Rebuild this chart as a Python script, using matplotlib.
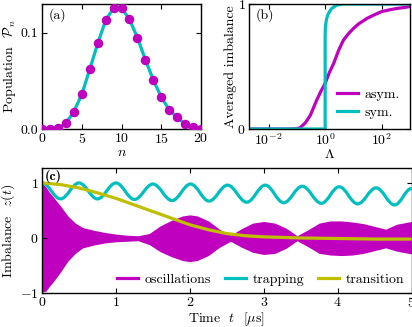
import matplotlib
matplotlib.use("Agg")
import matplotlib.pyplot as plt
from matplotlib.path import Path
from matplotlib.patches import PathPatch

plt.rcParams['font.family'] = ['cmr10']
plt.rcParams['mathtext.fontset'] = 'cm'
plt.rcParams['axes.formatter.use_mathtext'] = True
plt.rcParams['font.size'] = 10
plt.rcParams['xtick.direction'] = 'in'
plt.rcParams['ytick.direction'] = 'in'
plt.rcParams['xtick.top'] = True
plt.rcParams['ytick.right'] = True
plt.rcParams['xtick.major.pad'] = 2.5
plt.rcParams['ytick.major.pad'] = 2.5
plt.rcParams['axes.linewidth'] = 1.0

# (a) population distribution
n_vals = list(range(21))
pop = [0.000, 0.000, 0.001, 0.006, 0.018, 0.036, 0.062, 0.089, 0.113, 0.126, 0.126,
       0.114, 0.095, 0.072, 0.051, 0.033, 0.020, 0.012, 0.005, 0.002, 0.000]

# (b) averaged imbalance vs Lambda
lam_asym = [2e-3, 0.01, 0.05, 0.1, 0.13, 0.2, 0.3, 0.5, 0.7, 1.0, 1.4, 2.0, 3.0, 4.4,
            6.5, 10, 15, 30, 50, 100, 200, 340, 600, 1000]
imb_asym = [0.0, 0.0, 0.0, 0.003, 0.01, 0.05, 0.11, 0.23, 0.30, 0.365, 0.45, 0.525, 0.63, 0.71,
            0.76, 0.805, 0.84, 0.885, 0.91, 0.94, 0.955, 0.965, 0.972, 0.98]
lam_sym = [2e-3, 0.5, 1.0, 1.0, 1.02, 1.08, 1.15, 1.3, 1.7, 2.5, 4.0, 10, 1000]
imb_sym = [0.0, 0.0, 0.0, 0.75, 0.81, 0.86, 0.89, 0.925, 0.965, 0.99, 1.0, 1.0, 1.0]

# (c) imbalance dynamics
osc_t = [0, 0.05, 0.1, 0.15, 0.25, 0.35, 0.45, 0.55, 0.7, 0.85, 1.0, 1.15, 1.3, 1.45,
         1.6, 1.75, 1.9, 2.0, 2.1, 2.25, 2.4, 2.55, 2.7, 2.85, 3.0, 3.15, 3.3, 3.45,
         3.6, 3.75, 3.9, 4.05, 4.2, 4.35, 4.5, 4.65, 4.8, 5.0]
osc_up = [1.0, 0.93, 0.83, 0.75, 0.58, 0.40, 0.27, 0.19, 0.14, 0.10, 0.07, 0.05, 0.04, 0.08,
          0.22, 0.32, 0.40, 0.42, 0.40, 0.31, 0.16, 0.05, 0.17, 0.27, 0.30, 0.27, 0.18, 0.04,
          0.15, 0.27, 0.31, 0.31, 0.29, 0.26, 0.21, 0.16, 0.25, 0.30]
osc_lo = [-0.98, -0.97, -0.88, -0.80, -0.62, -0.42, -0.28, -0.18, -0.13, -0.09, -0.07, -0.06, -0.05, -0.12,
          -0.25, -0.34, -0.41, -0.43, -0.41, -0.32, -0.17, -0.06, -0.17, -0.26, -0.30, -0.28, -0.19, -0.05,
          -0.16, -0.28, -0.31, -0.32, -0.31, -0.28, -0.23, -0.18, -0.24, -0.29]

trap_t = [0, 0.25, 0.5, 0.75, 1.0, 1.25, 1.5, 1.76, 2.01, 2.26, 2.51, 2.77, 3.02, 3.27,
          3.52, 3.78, 4.02, 4.27, 4.52, 4.77, 5.0]
trap_z = [1.0, 0.71, 1.0, 0.71, 1.0, 0.70, 0.98, 0.68, 0.98, 0.67, 0.96, 0.65, 0.96, 0.64,
          0.94, 0.63, 0.93, 0.62, 0.91, 0.60, 0.90]

trans_t = [0, 0.25, 0.5, 0.75, 1.0, 1.25, 1.5, 1.75, 2.0, 2.25, 2.5, 2.75, 3.0, 3.5, 4.0, 4.5, 5.0]
trans_z = [1.0, 0.97, 0.91, 0.82, 0.72, 0.60, 0.48, 0.36, 0.24, 0.15, 0.08, 0.04, 0.02, 0.0,
           -0.01, -0.02, -0.02]

fig = plt.figure(figsize=(4.12, 3.27), dpi=100)
ax1 = fig.add_axes([0.102, 0.6055, 0.386, 0.382])
ax2 = fig.add_axes([0.604, 0.6055, 0.391, 0.382])
ax3 = fig.add_axes([0.102, 0.104, 0.897, 0.382])

# panel (a)
ax1.plot(n_vals, pop, color='c', lw=2.3, zorder=2)
ax1.plot(n_vals, pop, 'o', color='m', ms=5.8, zorder=3)
ax1.set_xlim(0, 20)
ax1.set_ylim(0, 0.13)
ax1.set_xticks([0, 5, 10, 15, 20])
ax1.set_yticks([0.0, 0.1])
ax1.set_yticklabels(['0.0', '0.1'])
ax1.set_xlabel('$n$', labelpad=0)
ax1.set_ylabel(r'Population  $\mathcal{P}_n$', labelpad=2)
ax1.text(0.04, 0.965, '(a)', transform=ax1.transAxes, va='top', ha='left')

# panel (b)
ax2.plot(lam_asym, imb_asym, color='m', lw=2.3, label='asym.')
ax2.plot(lam_sym, imb_sym, color='c', lw=2.3, label='sym.')
ax2.set_xscale('log')
ax2.set_xlim(2e-3, 1e3)
ax2.set_ylim(0, 1)
ax2.set_xticks([1e-2, 1e0, 1e2])
ax2.set_yticks([0, 1])
ax2.set_xlabel(r'$\Lambda$', labelpad=0)
ax2.set_ylabel('Averaged imbalance', labelpad=0)
ax2.text(0.04, 0.965, '(b)', transform=ax2.transAxes, va='top', ha='left')
ax2.legend(loc='lower right', frameon=False, handlelength=1.5, borderaxespad=0.3,
           labelspacing=0.4, handletextpad=0.5)

# panel (c)
ax3.fill_between(osc_t, osc_lo, osc_up, color='m', lw=0)
ax3.plot([], [], color='m', lw=2.3, label='oscillations')

verts = [(trap_t[0], trap_z[0])]
codes = [Path.MOVETO]
for i in range(len(trap_t) - 1):
    dt = trap_t[i + 1] - trap_t[i]
    verts += [(trap_t[i] + 0.364 * dt, trap_z[i]),
              (trap_t[i + 1] - 0.364 * dt, trap_z[i + 1]),
              (trap_t[i + 1], trap_z[i + 1])]
    codes += [Path.CURVE4] * 3
ax3.add_patch(PathPatch(Path(verts, codes), fill=False, edgecolor='c', lw=2.3))
ax3.plot([], [], color='c', lw=2.3, label='trapping')

ax3.plot(trans_t, trans_z, color='y', lw=2.3, label='transition')
ax3.set_xlim(0, 5)
ax3.set_ylim(-1, 1.27)
ax3.set_yticks([-1, 0, 1])
ax3.set_xlabel(r'Time  $t$  [$\mu$s]', labelpad=0)
ax3.set_ylabel(r'Imbalance  $z(t)$', labelpad=2)
ax3.text(0.008, 0.985, '(c)', transform=ax3.transAxes, va='top', ha='left',
         family='cmb10')
ax3.legend(loc='lower right', ncol=3, frameon=False, handlelength=1.5,
           borderaxespad=0.1, columnspacing=1.0, handletextpad=0.5)

fig.savefig('out.png', dpi=100)
